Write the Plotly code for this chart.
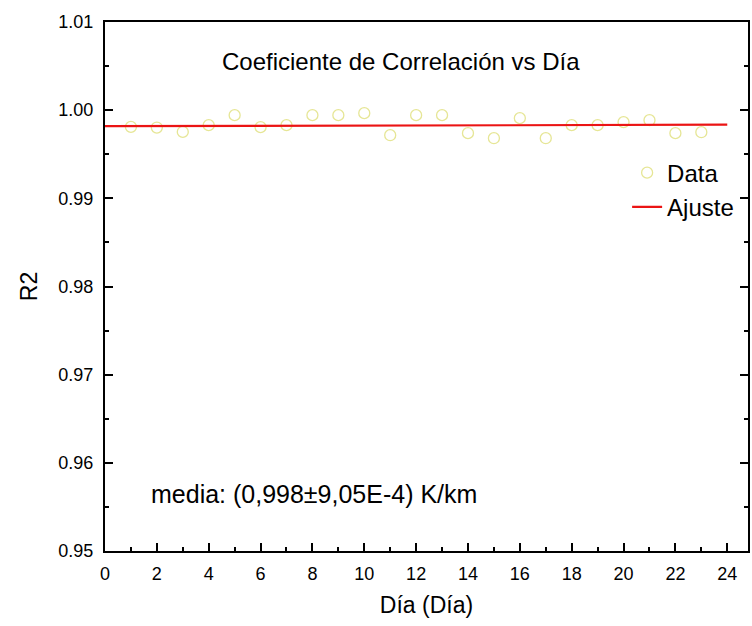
import plotly.graph_objects as go

days = list(range(1, 24))
r2 = [0.99810, 0.99803, 0.99753, 0.99830, 0.99943, 0.99807, 0.99830, 0.99943,
      0.99943, 0.99966, 0.99716, 0.99943, 0.99943, 0.99739, 0.99682, 0.99909,
      0.99682, 0.99830, 0.99830, 0.99864, 0.99886, 0.99739, 0.99750]
fit_x = [0, 24]
fit_y = [0.99818, 0.99835]

x_ticks = list(range(0, 25, 2))
y_ticks = [0.95, 0.96, 0.97, 0.98, 0.99, 1.00, 1.01]
y_ticklabels = ["0.95", "0.96", "0.97", "0.98", "0.99", "1.00", "1.01"]

font = "Liberation Sans, Arial, sans-serif"

fig = go.Figure()
fig.add_trace(go.Scatter(
    x=days, y=r2, mode="markers", name="Data",
    marker=dict(symbol="circle-open", size=11, color="rgb(230,230,150)",
                line=dict(width=1.3, color="rgb(230,230,150)")),
))
fig.add_trace(go.Scatter(
    x=fit_x, y=fit_y, mode="lines", name="Ajuste",
    line=dict(color="rgb(235,20,20)", width=2.2),
))

fig.update_layout(
    width=752, height=626,
    margin=dict(l=105, r=2, t=22, b=75),
    paper_bgcolor="white", plot_bgcolor="white",
    font=dict(family=font, size=18, color="black"),
    showlegend=True,
    legend=dict(x=0.812, y=0.757, xanchor="left", yanchor="top",
                bgcolor="rgba(0,0,0,0)", font=dict(size=24),
                tracegroupgap=0, itemwidth=30),
    xaxis=dict(
        range=[0, 24.8], tickmode="array", tickvals=x_ticks,
        showgrid=False, zeroline=False,
        showline=True, linecolor="black", linewidth=2, mirror=True,
        ticks="inside", ticklen=8, tickwidth=2, tickcolor="black",
        minor=dict(dtick=1, ticks="inside", ticklen=4, tickwidth=2, tickcolor="black"),
        tickfont=dict(size=18), ticklabelstandoff=5,
        title=dict(text="Día (Día)", font=dict(size=23), standoff=14),
    ),
    yaxis=dict(
        range=[0.95, 1.01], tickmode="array", tickvals=y_ticks, ticktext=y_ticklabels,
        showgrid=False, zeroline=False,
        showline=True, linecolor="black", linewidth=2, mirror="ticks",
        ticks="inside", ticklen=8, tickwidth=2, tickcolor="black",
        minor=dict(dtick=0.005, ticks="inside", ticklen=4, tickwidth=2, tickcolor="black"),
        tickfont=dict(size=18), ticklabelstandoff=6,
        title=dict(text="R2", font=dict(size=23), standoff=14),
    ),
    annotations=[
        dict(text="Coeficiente de Correlación vs Día", x=0.46, y=0.925,
             xref="paper", yref="paper", showarrow=False,
             font=dict(size=24), xanchor="center", yanchor="middle"),
        dict(text="media: (0,998±9,05E-4) K/km", x=0.068, y=0.107,
             xref="paper", yref="paper", showarrow=False,
             font=dict(size=25), xanchor="left", yanchor="middle"),
    ],
)

fig.write_html("out.html")
